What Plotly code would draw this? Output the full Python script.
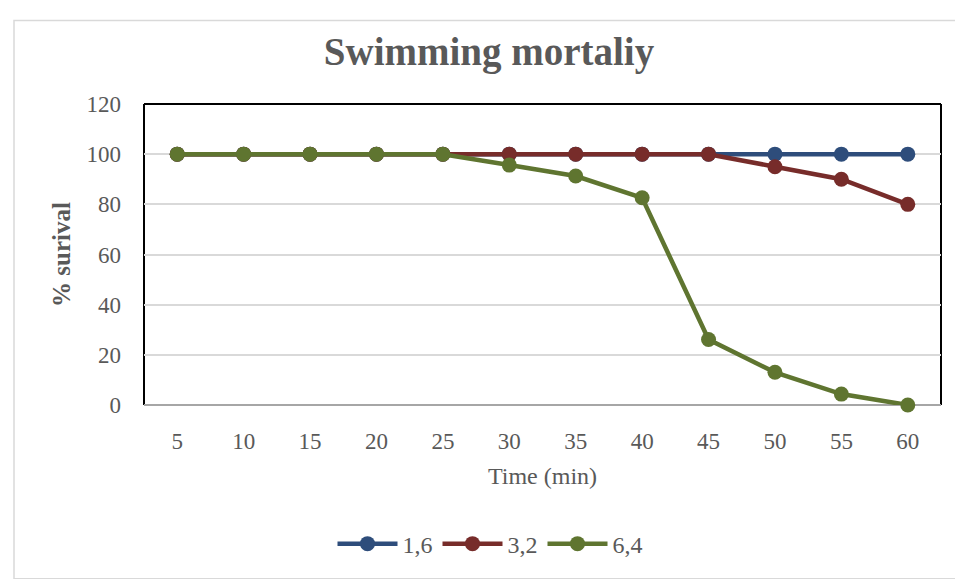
import plotly.graph_objects as go

time_min = ["5", "10", "15", "20", "25", "30", "35", "40", "45", "50", "55", "60"]
s_16 = [100, 100, 100, 100, 100, 100, 100, 100, 100, 100, 100, 100]
s_32 = [100, 100, 100, 100, 100, 100, 100, 100, 100, 95, 90, 80]
s_64 = [100, 100, 100, 100, 100, 95.65, 91.3, 82.6, 26.1, 13.04, 4.35, 0]

series = [("1,6", s_16, "#2E4D7B"), ("3,2", s_32, "#772C2A"), ("6,4", s_64, "#5F7530")]

FONT = "Liberation Serif"
GREY = "#595959"

fig = go.Figure()
for name, vals, col in series:
    fig.add_trace(go.Scatter(
        x=time_min, y=vals, name=name, mode="lines+markers",
        line=dict(color=col, width=4.5),
        marker=dict(color=col, size=15),
        cliponaxis=False,
    ))

W, H = 955, 579
L, R, T, B = 144, 14, 104, 172
pw, ph = W - L - R, H - T - B

def px(x):
    return (x - L) / pw

def py(y):
    return (H - B - y) / ph

fig.update_layout(
    width=W, height=H,
    margin=dict(l=L, r=R, t=T, b=B),
    paper_bgcolor="white", plot_bgcolor="white",
    font=dict(family=FONT, color=GREY, size=22),
    title=dict(text="<b>Swimming mortaliy</b>", x=489 / W, xanchor="center",
               y=1 - 51 / H, yanchor="middle", font=dict(size=39, color=GREY)),
    xaxis=dict(type="category", range=[-0.5, 11.5], showgrid=False, showline=False,
               zeroline=False, ticks="", ticklabelstandoff=20,
               tickfont=dict(size=23, color=GREY),
               title=dict(text="Time (min)", font=dict(size=24, color=GREY), standoff=14)),
    yaxis=dict(range=[0, 120], dtick=20, showgrid=True, gridcolor="#D9D9D9", gridwidth=2,
               zeroline=False, showline=False, ticks="", ticklabelstandoff=22,
               tickfont=dict(size=23, color=GREY),
               title=dict(text="<b>% surival</b>", font=dict(size=25, color=GREY), standoff=8)),
    legend=dict(orientation="h", x=px(490), xanchor="center", y=py(547), yanchor="middle",
                font=dict(size=24, color=GREY), itemwidth=60, tracegroupgap=0),
    showlegend=True,
)

# plot-area frame: black left/top/right, grey bottom
fig.add_shape(type="line", xref="paper", yref="paper", x0=0, x1=0, y0=0, y1=1,
              line=dict(color="black", width=2), layer="below")
fig.add_shape(type="line", xref="paper", yref="paper", x0=0, x1=1, y0=1, y1=1,
              line=dict(color="black", width=2), layer="below")
fig.add_shape(type="line", xref="paper", yref="paper", x0=1, x1=1, y0=0, y1=1,
              line=dict(color="black", width=2), layer="below")
fig.add_shape(type="line", xref="paper", yref="paper", x0=0, x1=1, y0=0, y1=0,
              line=dict(color="#A6A6A6", width=2), layer="below")
# outer chart border
fig.add_shape(type="rect", xref="paper", yref="paper", x0=px(14), x1=px(958),
              y0=py(582), y1=py(20), line=dict(color="#D9D9D9", width=1.5), layer="below")

fig.write_html("out.html")
